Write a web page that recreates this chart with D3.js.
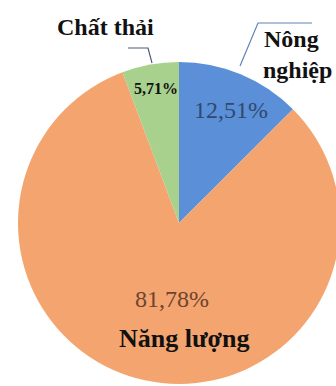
<!DOCTYPE html>
<html><head><meta charset="utf-8">
<script src="https://cdn.jsdelivr.net/npm/d3@7"></script>
<style>html,body{margin:0;padding:0;background:#fff;}svg{display:block;}</style>
</head><body>
<script>
const categories = ["Nông nghiệp", "Năng lượng", "Chất thải"];
const values = [12.51, 81.78, 5.71];
const valueLabels = ["12,51%", "81,78%", "5,71%"];
const colors = ["#5b8fd8", "#f4a46e", "#a8d18d"];

const W = 336, H = 386;
const cx = 179, cy = 223, r = 161;
const svg = d3.select("body").append("svg").attr("width", W).attr("height", H);
const g = svg.append("g").attr("transform", `translate(${cx},${cy})`);

const pie = d3.pie().sort(null).value(d => d)(values);
const arc = d3.arc().innerRadius(0).outerRadius(r);
g.selectAll("path").data(pie).join("path")
  .attr("d", arc)
  .attr("fill", (d, i) => colors[i]);

const serif = "'Liberation Serif', Tinos, 'Times New Roman', 'DejaVu Serif', serif";

svg.append("path").attr("d", "M240,66L258,23L312,23").attr("fill", "none")
  .attr("stroke", "#5f84b4").attr("stroke-width", 1.2);
svg.append("path").attr("d", "M128,48L148,48L152,63").attr("fill", "none")
  .attr("stroke", "#4d5d78").attr("stroke-width", 1.2);

function txt(x, y, s, size, weight, fill) {
  svg.append("text").attr("x", x).attr("y", y).text(s)
    .style("font-family", serif).style("font-size", size + "px")
    .style("font-weight", weight).attr("fill", fill);
}
txt(57, 35, categories[2], 24, "bold", "#111");
txt(264, 47, "Nông", 24, "bold", "#111");
txt(263, 78, "nghiệp", 24, "bold", "#111");
txt(119, 347, categories[1], 26, "bold", "#111");
txt(194, 118, valueLabels[0], 24, "normal", "#2f4a70");
txt(135, 307, valueLabels[1], 24, "normal", "#6a4530");
txt(134, 94, valueLabels[2], 16, "bold", "#111");
</script>
</body></html>
